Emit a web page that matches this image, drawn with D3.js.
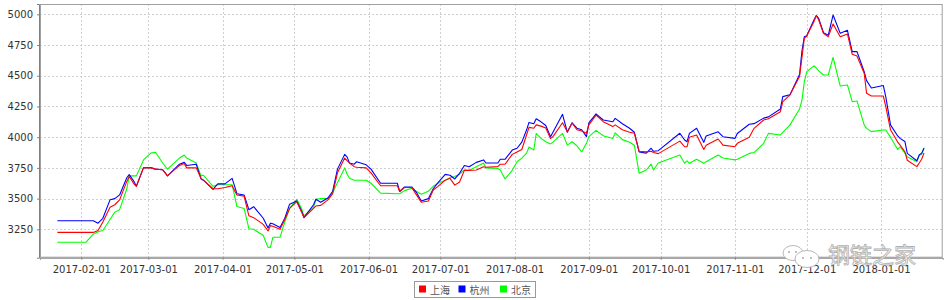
<!DOCTYPE html>
<html>
<head>
<meta charset="utf-8">
<script src="https://cdn.jsdelivr.net/npm/d3@7"></script>
<style>
  body { margin: 0; background: #fff; }
  text { font-family: "DejaVu Sans", sans-serif; }
</style>
</head>
<body>
<svg id="chart" width="950" height="300"></svg>
<script>
// Series names / colours (legend order)
const seriesNames = ["上海", "杭州", "北京"];
const seriesColors = ["#ff0000", "#0000ff", "#00ff00"];

// Sample dates
const dates = [
  "2017-01-22","2017-02-03","2017-02-06","2017-02-08","2017-02-10","2017-02-13","2017-02-15","2017-02-17",
  "2017-02-20","2017-02-21","2017-02-23","2017-02-24","2017-02-27","2017-03-02","2017-03-04","2017-03-07",
  "2017-03-09","2017-03-14","2017-03-16","2017-03-17","2017-03-21","2017-03-23","2017-03-24","2017-03-28",
  "2017-03-30","2017-04-02","2017-04-05","2017-04-07","2017-04-10","2017-04-12","2017-04-14","2017-04-18",
  "2017-04-20","2017-04-21","2017-04-22","2017-04-25","2017-04-27","2017-04-29","2017-05-02","2017-05-04",
  "2017-05-05","2017-05-09","2017-05-10","2017-05-12","2017-05-15","2017-05-17","2017-05-19","2017-05-22",
  "2017-05-23","2017-05-24","2017-05-26","2017-05-27","2017-05-31","2017-06-02","2017-06-06","2017-06-13",
  "2017-06-14","2017-06-16","2017-06-19","2017-06-21","2017-06-23","2017-06-26","2017-06-28","2017-06-30",
  "2017-07-03","2017-07-05","2017-07-07","2017-07-09","2017-07-11","2017-07-13","2017-07-16","2017-07-19",
  "2017-07-20","2017-07-25","2017-07-26","2017-07-28","2017-07-31","2017-08-02","2017-08-04","2017-08-06",
  "2017-08-07","2017-08-09","2017-08-10","2017-08-12","2017-08-14","2017-08-16","2017-08-17","2017-08-21",
  "2017-08-23","2017-08-25","2017-08-27","2017-08-29","2017-08-31","2017-09-01","2017-09-04","2017-09-07",
  "2017-09-11","2017-09-12","2017-09-15","2017-09-18","2017-09-20","2017-09-22","2017-09-25","2017-09-27",
  "2017-09-28","2017-09-30","2017-10-09","2017-10-11","2017-10-12","2017-10-13","2017-10-16","2017-10-19",
  "2017-10-20","2017-10-25","2017-10-27","2017-11-01","2017-11-02","2017-11-07","2017-11-09","2017-11-13",
  "2017-11-15","2017-11-20","2017-11-21","2017-11-24","2017-11-28","2017-11-29","2017-11-30","2017-12-01",
  "2017-12-04","2017-12-05","2017-12-06","2017-12-08","2017-12-10","2017-12-12","2017-12-15","2017-12-18",
  "2017-12-20","2017-12-22","2017-12-25","2017-12-26","2017-12-28","2018-01-02","2018-01-03","2018-01-05",
  "2018-01-08","2018-01-09","2018-01-11","2018-01-12","2018-01-16","2018-01-17","2018-01-18","2018-01-19"
];

// 上海 (red)
const shanghai = [
  3225,3225,3225,3240,3310,3430,3450,3490,3640,3680,3620,3600,3752,3750,3740,3735,
  3685,3770,3785,3750,3750,3665,3650,3580,3580,3590,3605,3530,3520,3360,3345,3290,
  3236,3280,3275,3250,3330,3420,3475,3390,3345,3420,3440,3445,3490,3540,3710,3830,
  3810,3790,3760,3755,3750,3710,3605,3605,3558,3590,3590,3530,3470,3480,3570,3600,
  3650,3665,3610,3635,3730,3730,3733,3760,3755,3760,3780,3780,3860,3880,3900,4020,
  4080,4073,4100,4090,4075,3990,4004,4117,4045,4115,4060,4050,4032,4100,4180,4126,
  4086,4100,4060,4040,4032,3885,3880,3885,3875,3866,3968,3922,3922,4000,4018,3900,
  3935,3985,3935,3922,3950,4000,4072,4140,4150,4207,4290,4345,4494,4650,4805,4823,
  4940,4990,4954,4845,4818,4921,4818,4840,4675,4660,4520,4357,4335,4335,4250,4060,
  3960,3935,3880,3812,3760,3790,3820,3872
];

// 杭州 (blue)
const hangzhou = [
  3320,3320,3320,3300,3340,3490,3500,3530,3670,3695,3640,3600,3752,3752,3740,3735,
  3685,3780,3795,3770,3780,3660,3650,3575,3620,3620,3665,3540,3530,3410,3434,3340,
  3260,3300,3295,3265,3340,3455,3480,3400,3345,3450,3495,3470,3505,3560,3740,3860,
  3840,3790,3780,3800,3775,3740,3625,3625,3558,3595,3595,3550,3480,3500,3580,3630,
  3697,3690,3660,3706,3770,3760,3795,3815,3790,3790,3820,3820,3895,3910,3960,4060,
  4120,4110,4150,4125,4095,4004,4040,4186,4040,4117,4073,4060,4004,4117,4189,4140,
  4126,4153,4109,4073,4040,3880,3870,3910,3885,3890,4032,3977,3963,4031,4073,3958,
  4010,4044,4004,3990,4030,4105,4110,4155,4165,4230,4330,4345,4510,4700,4818,4825,
  4954,4990,4967,4850,4830,4994,4845,4870,4696,4696,4533,4460,4400,4420,4330,4100,
  4010,3990,3965,3868,3808,3855,3870,3910
];

// 北京 (green)
const beijing = [
  3145,3145,3210,3230,3240,3330,3390,3410,3580,3685,3685,3685,3815,3870,3877,3790,
  3740,3830,3855,3830,3790,3685,3690,3600,3613,3613,3613,3435,3420,3255,3250,3200,
  3103,3103,3185,3185,3310,3420,3494,3420,3360,3430,3495,3500,3500,3550,3630,3750,
  3700,3665,3650,3650,3650,3625,3545,3540,3540,3565,3585,3558,3535,3560,3600,3625,
  3650,3670,3680,3700,3733,3730,3760,3790,3750,3745,3733,3660,3730,3800,3830,3870,
  3920,3895,4030,3990,3963,3945,3960,4031,3935,3963,3930,3880,3950,4004,4055,4012,
  3990,4035,3980,3958,3935,3706,3733,3780,3733,3790,3855,3787,3808,3787,3820,3787,
  3800,3855,3830,3815,3820,3868,3875,3950,4031,4018,4040,4100,4230,4300,4450,4533,
  4580,4565,4540,4506,4506,4650,4416,4425,4289,4295,4100,4072,4045,4058,4058,4000,
  3900,3922,3870,3840,3800,3855,3860,3915
];

// Axis ticks
const yTicks = [3250, 3500, 3750, 4000, 4250, 4500, 4750, 5000];
const xTicks = ["2017-02-01","2017-03-01","2017-04-01","2017-05-01","2017-06-01","2017-07-01",
  "2017-08-01","2017-09-01","2017-10-01","2017-11-01","2017-12-01","2018-01-01"];

const parse = d3.timeParse("%Y-%m-%d");
const fmt = d3.timeFormat("%Y-%m-%d");

// Plot area
const plotLeft = 40, plotRight = 942.7, plotTop = 4, plotBottom = 257.7;

const svg = d3.select("#chart");

const x = d3.scaleTime()
    .domain([new Date(2017, 0, 14, 18), new Date(2018, 0, 26, 19)])
    .range([plotLeft, plotRight]);

const y = d3.scaleLinear()
    .domain([3019, 5084])
    .range([plotBottom, plotTop]);

// gridlines
const grid = svg.append("g")
    .attr("stroke", "#c4c4c4")
    .attr("stroke-width", 0.8)
    .attr("stroke-dasharray", "2,2");

yTicks.forEach(v => {
    grid.append("line")
        .attr("x1", plotLeft).attr("x2", plotRight)
        .attr("y1", Math.round(y(v)) + 0.5).attr("y2", Math.round(y(v)) + 0.5);
});
xTicks.forEach(d => {
    const px = Math.round(x(parse(d))) + 0.5;
    grid.append("line")
        .attr("x1", px).attr("x2", px)
        .attr("y1", plotTop).attr("y2", plotBottom);
});

// series lines (drawn in reverse so 上海 sits on top)
const line = d3.line()
    .x(d => x(d.date))
    .y(d => y(d.value));

const allSeries = [shanghai, hangzhou, beijing];
for (let i = allSeries.length - 1; i >= 0; i--) {
    const pts = dates.map((d, j) => ({ date: parse(d), value: allSeries[i][j] }));
    svg.append("path")
        .datum(pts)
        .attr("fill", "none")
        .attr("stroke", seriesColors[i])
        .attr("stroke-width", 1.1)
        .attr("stroke-linejoin", "round")
        .attr("d", line);
}

// plot outline
svg.append("rect")
    .attr("x", plotLeft + 0.5).attr("y", plotTop + 0.5)
    .attr("width", plotRight - plotLeft - 1).attr("height", plotBottom - plotTop - 1)
    .attr("fill", "none")
    .attr("stroke", "#a0a0a0")
    .attr("stroke-width", 1);

// axes
const yAxis = svg.append("g")
    .attr("transform", `translate(${plotLeft - 1},0)`)
    .call(d3.axisLeft(y).tickValues(yTicks).tickSize(2).tickPadding(4).tickFormat(d3.format("d")));
const xAxis = svg.append("g")
    .attr("transform", `translate(0,${plotBottom})`)
    .call(d3.axisBottom(x).tickValues(xTicks.map(parse)).tickSize(2).tickPadding(6).tickFormat(fmt));

[yAxis, xAxis].forEach(g => {
    g.select(".domain").attr("stroke", "#808080");
    g.selectAll(".tick line").attr("stroke", "#808080");
    g.selectAll(".tick text")
        .attr("fill", "#333")
        .style("font-size", "10px")
        .style("font-family", "'DejaVu Sans', sans-serif");
});

// legend
const legend = svg.append("g");
legend.append("rect")
    .attr("x", 414.5).attr("y", 281.5)
    .attr("width", 121).attr("height", 16)
    .attr("fill", "#fff")
    .attr("stroke", "#999");
const legendX = [419, 458.5, 500];
seriesNames.forEach((name, i) => {
    legend.append("rect")
        .attr("x", legendX[i]).attr("y", 285.5)
        .attr("width", 7).attr("height", 7)
        .attr("fill", seriesColors[i]);
    legend.append("text")
        .attr("x", legendX[i] + 11).attr("y", 293.5)
        .attr("fill", "#555")
        .style("font-size", "10px")
        .style("font-family", "'Noto Sans CJK SC', sans-serif")
        .text(name);
});

// watermark
const wm = svg.append("g").attr("fill", "#fff").attr("stroke", "#b0b0b0").attr("stroke-width", 0.9);
wm.append("ellipse").attr("cx", 793).attr("cy", 253).attr("rx", 10).attr("ry", 7.5);
wm.append("ellipse").attr("cx", 807).attr("cy", 259).attr("rx", 12).attr("ry", 8.5);
[[789, 252], [796, 252], [803, 258], [811, 258]].forEach(p => {
    wm.append("circle").attr("cx", p[0]).attr("cy", p[1]).attr("r", 1.1).attr("fill", "#b0b0b0").attr("stroke", "none");
});
wm.append("text")
    .attr("x", 828).attr("y", 263)
    .style("font-size", "22px")
    .style("font-family", "'Noto Sans CJK SC', sans-serif")
    .attr("stroke-width", 0.8)
    .text("钢链之家");
</script>
</body>
</html>
